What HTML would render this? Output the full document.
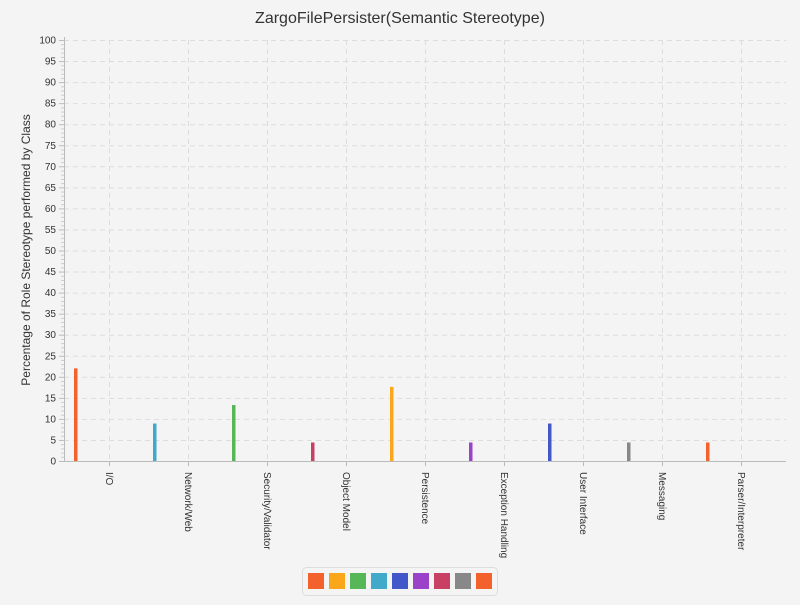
<!DOCTYPE html>
<html><head><meta charset="utf-8"><style>
body{margin:0;background:#f4f4f4;font-family:"Liberation Sans",sans-serif;}
</style></head><body>
<svg width="800" height="600" xmlns="http://www.w3.org/2000/svg">
<rect width="800" height="600" fill="#f4f4f4"/>
<text x="400" y="23" text-anchor="middle" font-size="16" fill="#333">ZargoFilePersister(Semantic Stereotype)</text>
<text transform="translate(30,250) rotate(-90)" text-anchor="middle" font-size="12" fill="#333">Percentage of Role Stereotype performed by Class</text>
<g id="grid"></g><g id="axes"></g><g id="bars"></g>
<g>
<rect x="302.5" y="567.5" width="195" height="28" rx="4" fill="#f4f4f4" stroke="#ddd"/>
<g id="legend"></g>
</g>
</svg>
<script>
const categories=["I/O","Network/Web","Security/Validator","Object Model","Persistence","Exception Handling","User Interface","Messaging","Parser/Interpreter"];
const values=[22,8.9,13.3,4.4,17.6,4.4,8.9,4.4,4.4];
const yTicks=[0,5,10,15,20,25,30,35,40,45,50,55,60,65,70,75,80,85,90,95,100];
const palette=["#f3622d","#fba71b","#57b757","#41a9c9","#4258c9","#9a42c8","#c84164","#888888","#f3622d"];
const barColors=["#f3622d","#41a9c9","#57b757","#c84164","#fba71b","#9a42c8","#4258c9","#888888","#f3622d"];
const NS="http://www.w3.org/2000/svg";
const X0=64,X1=786,Y0=461,Y1=40,band=79,c0=109;
const y=v=>Y0-(v/100)*(Y0-Y1);
const xc=i=>c0+i*band;
function mk(t,a,p){const e=document.createElementNS(NS,t);for(const k in a)e.setAttribute(k,a[k]);p.appendChild(e);return e;}
const grid=document.getElementById('grid'),axes=document.getElementById('axes'),bars=document.getElementById('bars');
yTicks.forEach(v=>{
 if(v>0)mk('line',{x1:X0,x2:X1,y1:y(v)+.5,y2:y(v)+.5,stroke:'#ddd','stroke-dasharray':'5,4'},grid);
 mk('line',{x1:X0-5,x2:X0,y1:y(v)+.5,y2:y(v)+.5,stroke:'#bbb'},axes);
 const t=mk('text',{x:X0-8,y:y(v)+3.5,'text-anchor':'end','font-size':'10',fill:'#333'},axes);t.textContent=v;
 
 if(v<100)for(let k=1;k<5;k++){const yy=y(v+k)+.5;mk('line',{x1:X0-3,x2:X0,y1:yy,y2:yy,stroke:'#ccc'},axes);}
});
categories.forEach((c,i)=>{
 mk('line',{x1:xc(i)+.5,x2:xc(i)+.5,y1:Y1,y2:Y0,stroke:'#ddd','stroke-dasharray':'5,4'},grid);
 mk('line',{x1:xc(i)+.5,x2:xc(i)+.5,y1:Y0,y2:Y0+5,stroke:'#bbb'},axes);
 const t=mk('text',{transform:`translate(${xc(i)-3},${Y0+11}) rotate(90)`,'font-size':'10',fill:'#333'},axes);t.textContent=c;
 
 const b=mk('rect',{x:xc(i)-35,y:y(values[i]),width:3.5,height:Y0-y(values[i]),fill:barColors[i]},bars);
 
});
mk('line',{x1:X0+.5,x2:X0+.5,y1:Y1-3,y2:Y0,stroke:'#bbb'},axes);
mk('line',{x1:X0,x2:X1,y1:Y0+.5,y2:Y0+.5,stroke:'#bbb'},axes);
const lg=document.getElementById('legend');
palette.forEach((c,i)=>{const r=mk('rect',{x:308+i*21,y:573,width:16,height:16,fill:c},lg);
 });
</script>
</body></html>
